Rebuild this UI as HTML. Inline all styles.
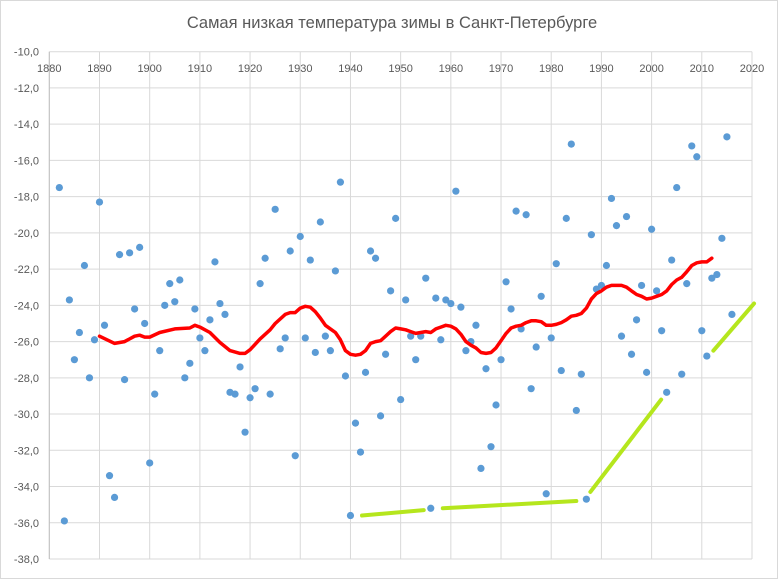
<!DOCTYPE html>
<html><head><meta charset="utf-8"><style>
body{margin:0;background:#fff;}
svg{display:block;font-family:"Liberation Sans","DejaVu Sans",sans-serif;}
</style></head><body>
<svg id="chart" width="778" height="579" viewBox="0 0 778 579" xmlns="http://www.w3.org/2000/svg">
<rect x="0.5" y="0.5" width="777" height="578" fill="#fff" stroke="#d9d9d9"/>
<text x="392" y="28" text-anchor="middle" font-size="16.5" fill="#595959">Самая низкая температура зимы в Санкт-Петербурге</text>
<g id="grid"></g>
<g id="ticks"></g>
<g id="series"></g>
</svg>
<script>
const xTicks=[1880,1890,1900,1910,1920,1930,1940,1950,1960,1970,1980,1990,2000,2010,2020];
const yTicks=[-10,-12,-14,-16,-18,-20,-22,-24,-26,-28,-30,-32,-34,-36,-38];
const years=[1882,1883,1884,1885,1886,1887,1888,1889,1890,1891,1892,1893,1894,1895,1896,1897,1898,1899,1900,1901,1902,1903,1904,1905,1906,1907,1908,1909,1910,1911,1912,1913,1914,1915,1916,1917,1918,1919,1920,1921,1922,1923,1924,1925,1926,1927,1928,1929,1930,1931,1932,1933,1934,1935,1936,1937,1938,1939,1940,1941,1942,1943,1944,1945,1946,1947,1948,1949,1950,1951,1952,1953,1954,1955,1956,1957,1958,1959,1960,1961,1962,1963,1964,1965,1966,1967,1968,1969,1970,1971,1972,1973,1974,1975,1976,1977,1978,1979,1980,1981,1982,1983,1984,1985,1986,1987,1988,1989,1990,1991,1992,1993,1994,1995,1996,1997,1998,1999,2000,2001,2002,2003,2004,2005,2006,2007,2008,2009,2010,2011,2012,2013,2014,2015,2016];
const temps=[-17.5,-35.9,-23.7,-27.0,-25.5,-21.8,-28.0,-25.9,-18.3,-25.1,-33.4,-34.6,-21.2,-28.1,-21.1,-24.2,-20.8,-25.0,-32.7,-28.9,-26.5,-24.0,-22.8,-23.8,-22.6,-28.0,-27.2,-24.2,-25.8,-26.5,-24.8,-21.6,-23.9,-24.5,-28.8,-28.9,-27.4,-31.0,-29.1,-28.6,-22.8,-21.4,-28.9,-18.7,-26.4,-25.8,-21.0,-32.3,-20.2,-25.8,-21.5,-26.6,-19.4,-25.7,-26.5,-22.1,-17.2,-27.9,-35.6,-30.5,-32.1,-27.7,-21.0,-21.4,-30.1,-26.7,-23.2,-19.2,-29.2,-23.7,-25.7,-27.0,-25.7,-22.5,-35.2,-23.6,-25.9,-23.7,-23.9,-17.7,-24.1,-26.5,-26.0,-25.1,-33.0,-27.5,-31.8,-29.5,-27.0,-22.7,-24.2,-18.8,-25.3,-19.0,-28.6,-26.3,-23.5,-34.4,-25.8,-21.7,-27.6,-19.2,-15.1,-29.8,-27.8,-34.7,-20.1,-23.1,-22.9,-21.8,-18.1,-19.6,-25.7,-19.1,-26.7,-24.8,-22.9,-27.7,-19.8,-23.2,-25.4,-28.8,-21.5,-17.5,-27.8,-22.8,-15.2,-15.8,-25.4,-26.8,-22.5,-22.3,-20.3,-14.7,-24.5];
const maYears=[1890,1893,1895,1897,1898,1899,1900,1902,1905,1908,1909,1910,1912,1914,1916,1918,1919,1920,1922,1924,1925,1927,1928,1929,1930,1931,1932,1933,1934,1935,1936,1937,1938,1939,1940,1941,1942,1943,1944,1945,1946,1947,1948,1949,1950,1951,1952,1953,1954,1955,1956,1957,1958,1959,1960,1961,1962,1963,1964,1965,1966,1967,1968,1969,1970,1971,1972,1973,1974,1975,1976,1977,1978,1979,1980,1981,1982,1983,1984,1985,1986,1987,1988,1989,1990,1991,1992,1993,1994,1995,1996,1997,1998,1999,2000,2001,2002,2003,2004,2005,2006,2007,2008,2009,2010,2011,2012];
const maValues=[-25.7,-26.1,-26.0,-25.7,-25.65,-25.75,-25.75,-25.5,-25.3,-25.25,-25.1,-25.2,-25.5,-26.05,-26.5,-26.65,-26.65,-26.45,-25.85,-25.35,-25.0,-24.5,-24.4,-24.4,-24.15,-24.05,-24.1,-24.35,-24.7,-25.1,-25.3,-25.5,-25.9,-26.5,-26.7,-26.75,-26.7,-26.5,-26.1,-26.0,-25.95,-25.7,-25.45,-25.25,-25.3,-25.35,-25.45,-25.55,-25.5,-25.45,-25.5,-25.3,-25.2,-25.1,-25.15,-25.3,-25.6,-26.0,-26.2,-26.35,-26.6,-26.65,-26.6,-26.35,-25.95,-25.55,-25.25,-25.15,-25.1,-24.95,-24.85,-24.85,-24.9,-25.1,-25.1,-25.05,-24.95,-24.8,-24.6,-24.55,-24.45,-24.15,-23.65,-23.35,-23.2,-23.0,-22.9,-22.9,-22.9,-23.0,-23.2,-23.4,-23.5,-23.65,-23.6,-23.5,-23.4,-23.2,-22.85,-22.6,-22.45,-22.15,-21.8,-21.65,-21.6,-21.6,-21.4];
const trendStartYears=[1942.3,1958.4,1987.8,2012.3];
const trendStartValues=[-35.6,-35.2,-34.3,-26.5];
const trendEndYears=[1954.6,1985.0,2001.9,2020.4];
const trendEndValues=[-35.3,-34.8,-29.2,-23.9];

const NS="http://www.w3.org/2000/svg";
const L=49.3,R=752,T=51.7,B=559;
const xS=y=>L+(y-1880)/140*(R-L);
const yS=v=>T+(-10-v)/28*(B-T);
function mk(tag,attrs,parent){const e=document.createElementNS(NS,tag);for(const k in attrs)e.setAttribute(k,attrs[k]);parent.appendChild(e);return e;}
const grid=document.getElementById('grid'),ticks=document.getElementById('ticks'),series=document.getElementById('series');
yTicks.forEach(v=>{
  const l=mk('line',{x1:L,x2:R,y1:yS(v),y2:yS(v),stroke:'#d9d9d9','stroke-width':1},grid);
  
  
  const t=mk('text',{x:39,y:yS(v)+4,'text-anchor':'end','font-size':11,fill:'#595959'},ticks);
  t.textContent=v.toFixed(1).replace('.',',');
  
  
});
xTicks.forEach(y=>{
  const l=mk('line',{x1:xS(y),x2:xS(y),y1:T,y2:B,stroke:'#d9d9d9','stroke-width':1},grid);
  
  
  const t=mk('text',{x:xS(y),y:72,'text-anchor':'middle','font-size':11,fill:'#595959'},ticks);
  t.textContent=y;
  
  
});
const ax=mk('line',{x1:L,x2:L,y1:T,y2:B,stroke:'#bfbfbf','stroke-width':1},grid);


years.forEach((y,i)=>{
  const c=mk('circle',{cx:xS(y),cy:yS(temps[i]),r:3.6,fill:'#5b9bd5'},series);
  
  
});
const pts=maYears.map((y,i)=>xS(y).toFixed(1)+','+yS(maValues[i]).toFixed(1)).join(' ');
const ma=mk('polyline',{points:pts,fill:'none',stroke:'#ff0000','stroke-width':3.5,'stroke-linejoin':'round','stroke-linecap':'round'},series);


trendStartYears.forEach((y,i)=>{
  const l=mk('line',{x1:xS(y),y1:yS(trendStartValues[i]),x2:xS(trendEndYears[i]),y2:yS(trendEndValues[i]),stroke:'#b5e61d','stroke-width':4,'stroke-linecap':'round'},series);
  
  
});
</script>
</body></html>
